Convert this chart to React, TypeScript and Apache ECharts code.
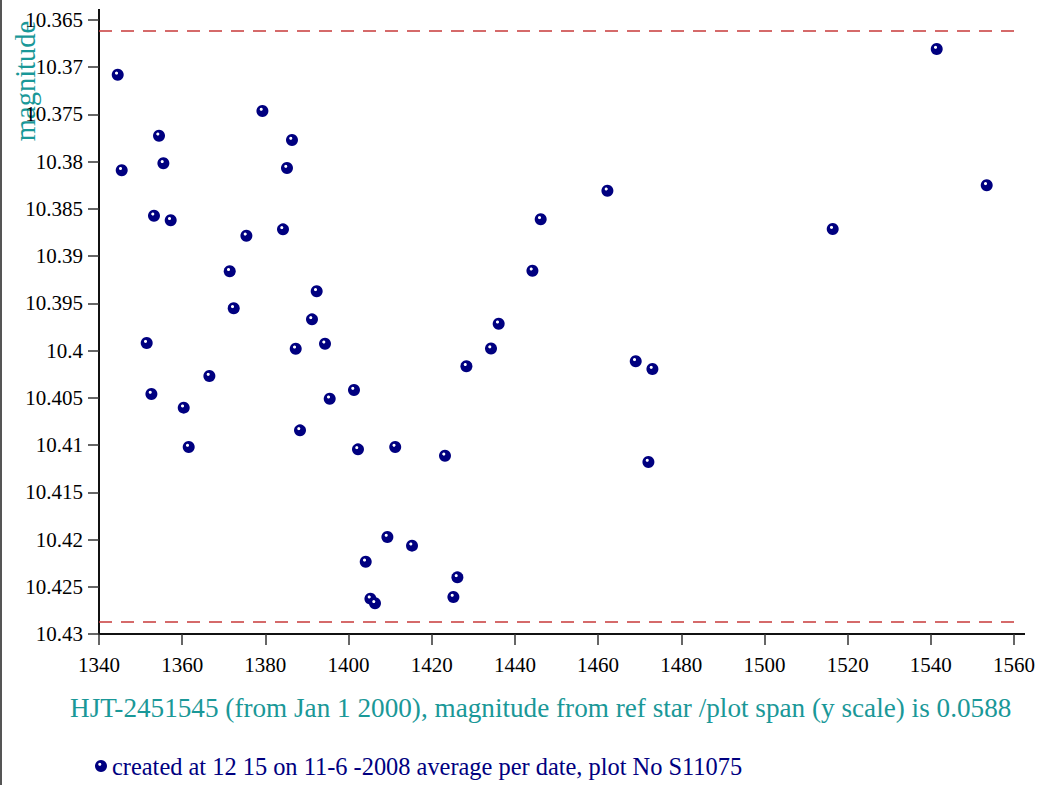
import React, { useEffect, useRef } from "react";
import * as echarts from "echarts";

const xValues = [
  1344.5, 1345.46, 1354.43, 1355.48, 1353.22, 1357.24, 1379.29, 1386.4, 1385.2, 1375.44,
  1384.24, 1371.43, 1372.39, 1392.34, 1391.21, 1387.3, 1394.34, 1351.47, 1352.6, 1366.54,
  1360.37, 1361.57, 1401.31, 1395.47, 1388.33, 1402.27, 1411.22, 1423.19, 1409.34, 1415.26,
  1404.13, 1426.17, 1405.26, 1406.36, 1425.21, 1462.24, 1446.2, 1444.21, 1436.1, 1434.25,
  1428.34, 1469.05, 1473.06, 1472.1, 1516.41, 1541.42, 1553.44,
];
const yValues = [
  10.3708, 10.3809, 10.37725, 10.38017, 10.38572, 10.3862, 10.37463, 10.3777, 10.38067, 10.38784,
  10.38716, 10.3916, 10.39552, 10.39372, 10.39669, 10.3998, 10.39927, 10.3992, 10.40459, 10.40269,
  10.40604, 10.4102, 10.40417, 10.40509, 10.40844, 10.41045, 10.4102, 10.41113, 10.41973, 10.42065,
  10.42235, 10.424, 10.42626, 10.42675, 10.42608, 10.38307, 10.3861, 10.39154, 10.39715, 10.39978,
  10.40165, 10.40113, 10.40195, 10.41179, 10.38713, 10.36807, 10.3825,
];
const limitLines = [10.3661, 10.4287];
const seriesName = "created at 12 15 on 11-6 -2008 average per date, plot No S11075";
const xTitle = "HJT-2451545 (from Jan 1 2000), magnitude from ref star /plot span (y scale) is 0.0588";
const yTitle = "magnitude";

const SERIF = "Liberation Serif";
const TEAL = "#1a9898";
const NAVY = "#000080";

export default function App() {
  const ref = useRef<HTMLDivElement>(null);
  useEffect(() => {
    if (!ref.current) return;
    const chart = echarts.init(ref.current, undefined, { renderer: "svg" });
    const data = xValues.map((x, i) => [x, yValues[i]]);
    const dot = {
      type: "radial",
      x: 0.4,
      y: 0.36,
      r: 0.62,
      colorStops: [
        { offset: 0, color: "#ffffff" },
        { offset: 0.14, color: "#ffffff" },
        { offset: 0.26, color: NAVY },
        { offset: 1, color: NAVY },
      ],
    };
    chart.setOption({
      animation: false,
      backgroundColor: "#ffffff",
      textStyle: { fontFamily: SERIF },
      grid: { left: 99, right: 28, top: 20, bottom: 151, containLabel: false },
      legend: {
        show: true,
        left: 90,
        top: 749,
        icon: "circle",
        itemWidth: 12,
        itemHeight: 12,
        textStyle: { fontFamily: SERIF, fontSize: 24.4, color: NAVY },
        data: [seriesName],
      },
      xAxis: {
        type: "value",
        min: 1340,
        max: 1560,
        interval: 20,
        splitLine: { show: false },
        axisLine: { show: true, onZero: false, lineStyle: { color: "#111", width: 2 } },
        axisTick: { show: true, length: 11, lineStyle: { color: "#333", width: 1.5 } },
        axisLabel: {
          fontFamily: SERIF,
          fontSize: 21,
          color: "#000",
          margin: 20,
          formatter: (v: number) => String(v),
        },
      },
      yAxis: {
        type: "value",
        inverse: true,
        min: 10.365,
        max: 10.43,
        interval: 0.005,
        splitLine: { show: false },
        axisLine: { show: true, onZero: false, lineStyle: { color: "#111", width: 2 } },
        axisTick: { show: true, length: 11, lineStyle: { color: "#333", width: 1.5 } },
        axisLabel: {
          fontFamily: SERIF,
          fontSize: 21,
          color: "#000",
          margin: 16,
          formatter: (v: number) => String(parseFloat(v.toFixed(4))),
        },
      },
      series: [
        {
          name: seriesName,
          type: "scatter",
          symbol: "circle",
          symbolSize: 12,
          itemStyle: { color: dot as any, opacity: 1 },
          data,
          markLine: {
            silent: true,
            precision: 5,
            symbol: ["none", "none"],
            label: { show: false },
            lineStyle: { color: "#c83a3a", type: [13, 9], width: 1.5, opacity: 1 },
            data: limitLines.map((v) => ({ yAxis: v })),
          },
        },
      ],
      graphic: [
        { type: "rect", shape: { x: 0, y: 0, width: 2, height: 785 }, style: { fill: "#555" } },
        { type: "line", shape: { x1: 99, y1: 9, x2: 99, y2: 21 }, style: { stroke: "#111", lineWidth: 2 } },
        { type: "line", shape: { x1: 1013, y1: 634, x2: 1025, y2: 634 }, style: { stroke: "#111", lineWidth: 2 } },
        {
          type: "text",
          x: 25,
          y: 81,
          rotation: Math.PI / 2,
          style: {
            text: yTitle,
            fontFamily: SERIF,
            fontSize: 28.5,
            fill: TEAL,
            align: "center",
            verticalAlign: "middle",
          },
        },
        {
          type: "text",
          x: 70,
          y: 708,
          style: {
            text: xTitle,
            fontFamily: SERIF,
            fontSize: 27.2,
            fill: TEAL,
            align: "left",
            verticalAlign: "middle",
          },
        },
      ],
    });
    return () => chart.dispose();
  }, []);
  return (
    <div
      ref={ref}
      style={{ position: "absolute", left: 0, top: 0, width: 1042, height: 785 }}
    />
  );
}
